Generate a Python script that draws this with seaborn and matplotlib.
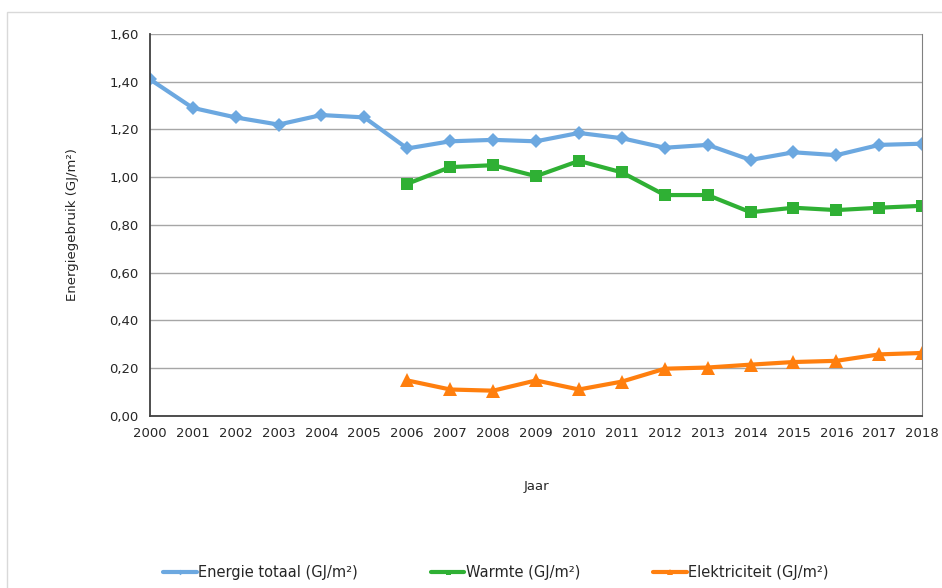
import pandas as pd
import numpy as np
import matplotlib
matplotlib.use('Agg')
import matplotlib.pyplot as plt
import seaborn as sns
from matplotlib.patches import Rectangle

jaren = list(range(2000, 2019))
totaal = [1.41, 1.29, 1.25, 1.22, 1.26, 1.25, 1.12, 1.15, 1.156, 1.15, 1.185, 1.163, 1.123, 1.135, 1.072, 1.104, 1.092, 1.135, 1.14]
warmte_jaren = list(range(2006, 2019))
warmte = [0.972, 1.042, 1.05, 1.004, 1.068, 1.02, 0.925, 0.925, 0.853, 0.872, 0.862, 0.872, 0.88]
elektriciteit = [0.149, 0.111, 0.106, 0.149, 0.111, 0.144, 0.198, 0.203, 0.215, 0.226, 0.231, 0.258, 0.264]

sns.set_style('white')
plt.rcParams['font.family'] = ['DejaVu Sans']

fig = plt.figure(figsize=(9.42, 5.88), dpi=100)
ax = fig.add_axes([0.159, 0.2925, 0.82, 0.65])

# lichtgrijze kader rond de grafiek
fig.patches.append(Rectangle((0.0075, -0.1), 1.2, 1.08, transform=fig.transFigure,
                             fill=False, edgecolor='#d9d9d9', linewidth=1))

df_t = pd.DataFrame({'jaar': jaren, 'waarde': totaal})
df_w = pd.DataFrame({'jaar': warmte_jaren, 'waarde': warmte})
df_e = pd.DataFrame({'jaar': warmte_jaren, 'waarde': elektriciteit})

sns.lineplot(data=df_t, x='jaar', y='waarde', ax=ax, color='#6CA8E0', linewidth=3,
             marker='D', markersize=7, markeredgewidth=0, label='Energie totaal (GJ/m²)')
sns.lineplot(data=df_w, x='jaar', y='waarde', ax=ax, color='#2FB034', linewidth=3,
             marker='s', markersize=9, markeredgewidth=0, label='Warmte (GJ/m²)')
sns.lineplot(data=df_e, x='jaar', y='waarde', ax=ax, color='#FF7F0E', linewidth=3,
             marker='^', markersize=10, markeredgewidth=0, label='Elektriciteit (GJ/m²)')

ax.set_xlim(2000, 2018)
ax.set_ylim(0, 1.6)
ax.set_xticks(jaren)
ax.set_xticklabels([str(j) for j in jaren], fontsize=9.5)
yt = np.arange(0, 1.61, 0.2)
ax.set_yticks(yt)
ax.set_yticklabels([f'{v:.2f}'.replace('.', ',') for v in yt], fontsize=9.5)
ax.yaxis.grid(True, color='#a6a6a6', linewidth=1)
ax.set_axisbelow(True)

for s in ['left', 'bottom']:
    ax.spines[s].set_color('#404040')
    ax.spines[s].set_linewidth(1.3)
ax.spines['right'].set_color('#808080')
ax.spines['top'].set_visible(False)
ax.tick_params(axis='both', direction='out', length=5, width=1, color='#404040', pad=3)

ax.set_xlabel('Jaar', fontsize=9.5, labelpad=29)
ax.set_ylabel('Energiegebruik (GJ/m²)', fontsize=9.5, labelpad=22)

ax.legend(loc='upper center', bbox_to_anchor=(0.448, -0.355), ncol=3, frameon=False,
          fontsize=10.5, handlelength=2.3, columnspacing=5.0, markerscale=0.4, handletextpad=0.1)

fig.savefig('out.png', dpi=100)
